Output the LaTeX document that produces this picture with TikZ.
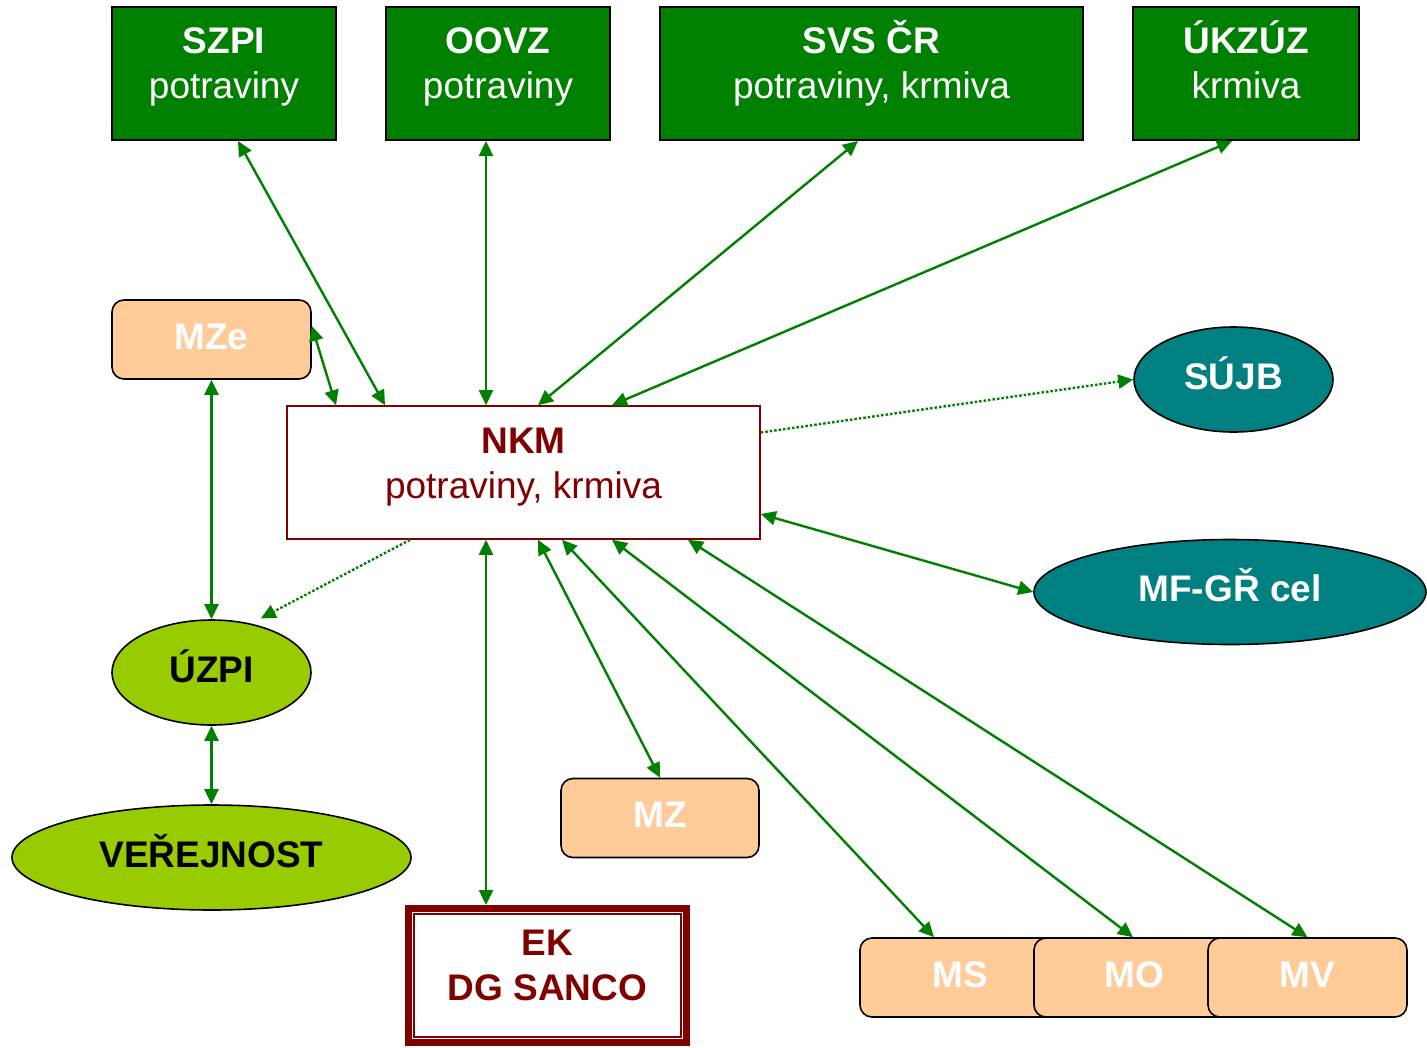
\documentclass[tikz,border=0pt]{standalone}
\usepackage{fontspec}
\setmainfont{Liberation Sans}
\usetikzlibrary{arrows.meta,shapes.geometric}
\definecolor{boxgreen}{HTML}{008000}
\definecolor{arrgreen}{HTML}{008000}
\definecolor{tealc}{HTML}{008080}
\definecolor{limec}{HTML}{99CC00}
\definecolor{peachc}{HTML}{FFCC99}
\definecolor{dredc}{HTML}{800000}
\newcommand{\twol}[4]{\parbox[c][#1][t]{#2}{\centering\rule{0pt}{27pt}\smash{#3}\\#4}}
\begin{document}
\begin{tikzpicture}[x=1pt,y=-1pt,
  every node/.style={inner sep=0pt, font=\fontsize{37}{45}\selectfont},
  topbox/.style={rectangle, draw=black, line width=2pt, fill=boxgreen, text=white, minimum height=133pt},
  oneline/.style={font=\fontsize{37}{45}\selectfont\bfseries, text height=27pt, text depth=8pt},
  peachbox/.style={oneline, rectangle, rounded corners=12pt, draw=black, line width=1.6pt, fill=peachc, text=white, minimum width=199pt, minimum height=79pt},
  tealell/.style={oneline, ellipse, draw=black, line width=1.6pt, fill=tealc, text=white, minimum height=105pt},
  limeell/.style={oneline, ellipse, draw=black, line width=1.6pt, fill=limec, text=black, minimum height=105pt},
  nkmbox/.style={rectangle, draw=dredc, line width=1.6pt, fill=white, text=dredc, minimum width=473pt, minimum height=133pt},
  ekframe/.style={rectangle, draw=dredc, line width=7pt, fill=white, text=dredc, minimum width=278pt, minimum height=134pt},
  biarrow/.style={draw=arrgreen, line width=2.4pt, {Triangle[length=15pt,width=14pt]}-{Triangle[length=15pt,width=14pt]}},
  dotarrow/.style={draw=arrgreen, line width=2.4pt, dash pattern=on 2.5pt off 2pt, -{Triangle[length=15pt,width=14pt]}},
]
\useasboundingbox (0,0) rectangle (1427,1047);

% top boxes
\node[topbox, minimum width=224pt] (szpi) at (224,73.5) {\twol{95pt}{210pt}{\textbf{SZPI}}{potraviny}};
\node[topbox, minimum width=224pt] (oovz) at (498,73.5) {\twol{95pt}{210pt}{\textbf{OOVZ}}{potraviny}};
\node[topbox, minimum width=423pt] (svs) at (871.5,73.5) {\twol{95pt}{400pt}{\textbf{SVS ČR}}{potraviny, krmiva}};
\node[topbox, minimum width=226pt] (ukzuz) at (1246,73.5) {\twol{95pt}{210pt}{\textbf{ÚKZÚZ}}{krmiva}};

% middle
\node[peachbox] (mze) at (211.5,339.5) {MZe};
\node[nkmbox] (nkm) at (523.5,472.5) {\twol{93pt}{450pt}{\textbf{NKM}}{potraviny, krmiva}};
\node[tealell, minimum width=199pt] (sujb) at (1233.5,379.5) {SÚJB};
\node[tealell, minimum width=392pt] (mf) at (1230,592) {MF-GŘ cel};
\node[limeell, minimum width=199pt] (uzpi) at (211.5,672.5) {ÚZPI};
\node[limeell, minimum width=399pt] (ver) at (211.5,857.5) {VEŘEJNOST};
\node[peachbox, minimum width=198pt] (mz) at (660,818) {MZ};

% EK
\node[ekframe] (ek) at (547.5,975.5) {\twol{95pt}{260pt}{\textbf{EK}}{\textbf{DG SANCO}}};
\draw[dredc, line width=2pt] ([shift={(9,9)}]ek.north west) rectangle ([shift={(-9,-9)}]ek.south east);

% bottom row
\node[peachbox, minimum width=200pt] (ms) at (960,977.5) {MS};
\node[peachbox, minimum width=200pt] (mo) at (1134,977.5) {MO};
\node[peachbox, minimum width=199pt] (mv) at (1307.5,977.5) {MV};

% connectors
\draw[biarrow] ([xshift=14pt]szpi.south) -- ([xshift=-138.5pt]nkm.north);
\draw[biarrow] ([xshift=-12pt]oovz.south) -- ([xshift=-37.5pt]nkm.north);
\draw[biarrow] ([xshift=-13.5pt]svs.south) -- ([xshift=14.5pt]nkm.north);
\draw[biarrow] ([xshift=-14pt]ukzuz.south) -- ([xshift=88.5pt]nkm.north);
\draw[biarrow] ([yshift=13.5pt]mze.east) -- ([xshift=-187.5pt]nkm.north);
\draw[biarrow] (mze.south) -- (uzpi.north);
\draw[dotarrow] ([xshift=-113.5pt]nkm.south) -- ([shift={(6,-6)}]uzpi.48);
\draw[dotarrow] ([yshift=40pt]nkm.east) -- (sujb.west);
\draw[biarrow] ([yshift=-41.5pt]nkm.east) -- (mf.west);
\draw[biarrow] (uzpi.south) -- (ver.north);
\draw[biarrow] ([xshift=-37.5pt]nkm.south) -- ([xshift=-61.5pt]ek.north);
\draw[biarrow] ([xshift=14.5pt]nkm.south) -- (mz.north);
\draw[biarrow] ([xshift=38.5pt]nkm.south) -- ([xshift=-26pt]ms.north);
\draw[biarrow] ([xshift=88.5pt]nkm.south) -- ([xshift=-1pt]mo.north);
\draw[biarrow] ([xshift=164.5pt]nkm.south) -- (mv.north);
\end{tikzpicture}
\end{document}
